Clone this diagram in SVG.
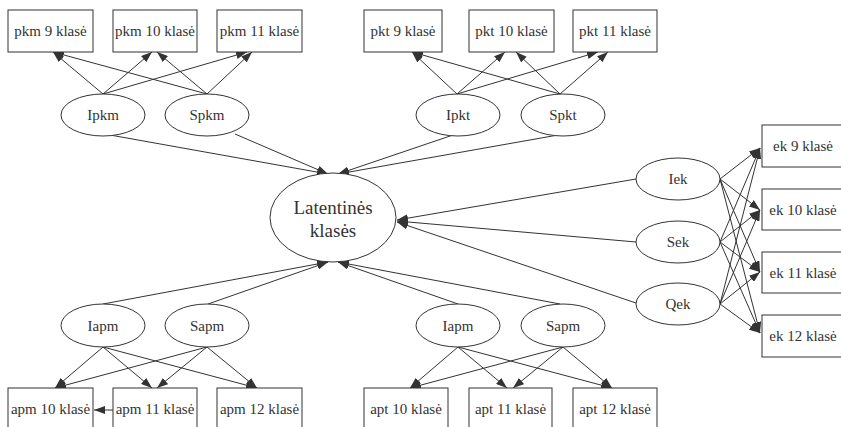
<svg xmlns="http://www.w3.org/2000/svg" width="841" height="427" viewBox="0 0 841 427">
<defs>
<marker id="ah" markerWidth="11" markerHeight="8" refX="11" refY="4" orient="auto" markerUnits="userSpaceOnUse">
<path d="M0,0 L11,4 L0,8 z" fill="#333"/>
</marker>
<style>
.box{fill:#fff;stroke:#333;stroke-width:1}
.ell{fill:#fff;stroke:#333;stroke-width:1}
text{font-family:'Liberation Serif','DejaVu Serif',serif;fill:#333;text-anchor:middle;dominant-baseline:central}
.t{font-size:15px}
.tc{font-size:19px}
#edges line{stroke:#333;stroke-width:1;marker-end:url(#ah)}
</style>
</defs>
<rect width="841" height="427" fill="#fff"/>
<g id="edges">
<line x1="103" y1="94" x2="53" y2="52"/>
<line x1="103" y1="94" x2="152" y2="52"/>
<line x1="103" y1="94" x2="247" y2="52"/>
<line x1="207" y1="94" x2="53" y2="52"/>
<line x1="207" y1="94" x2="157" y2="52"/>
<line x1="207" y1="94" x2="252" y2="52"/>
<line x1="457" y1="94" x2="412" y2="52"/>
<line x1="457" y1="94" x2="505" y2="52"/>
<line x1="457" y1="94" x2="598" y2="52"/>
<line x1="560" y1="94" x2="412" y2="52"/>
<line x1="560" y1="94" x2="516" y2="52"/>
<line x1="560" y1="94" x2="608" y2="52"/>
<line x1="110" y1="135" x2="328" y2="174"/>
<line x1="235" y1="134" x2="328" y2="174"/>
<line x1="453" y1="135" x2="338" y2="174"/>
<line x1="558" y1="135" x2="338" y2="174"/>
<line x1="103" y1="304" x2="328" y2="262"/>
<line x1="208" y1="304" x2="328" y2="262"/>
<line x1="458" y1="304" x2="338" y2="262"/>
<line x1="560" y1="304" x2="338" y2="262"/>
<line x1="636" y1="179" x2="397" y2="220"/>
<line x1="636" y1="242" x2="397" y2="221"/>
<line x1="636" y1="303" x2="397" y2="222"/>
<line x1="720" y1="179" x2="760" y2="148"/>
<line x1="720" y1="179" x2="760" y2="210"/>
<line x1="720" y1="179" x2="760" y2="272"/>
<line x1="720" y1="179" x2="760" y2="333"/>
<line x1="720" y1="242" x2="760" y2="148"/>
<line x1="720" y1="242" x2="760" y2="210"/>
<line x1="720" y1="242" x2="760" y2="272"/>
<line x1="720" y1="242" x2="760" y2="333"/>
<line x1="720" y1="304" x2="760" y2="148"/>
<line x1="720" y1="304" x2="760" y2="210"/>
<line x1="720" y1="304" x2="760" y2="272"/>
<line x1="720" y1="304" x2="760" y2="333"/>
<line x1="103" y1="347" x2="55" y2="388"/>
<line x1="103" y1="347" x2="152" y2="388"/>
<line x1="103" y1="347" x2="257" y2="388"/>
<line x1="207" y1="347" x2="55" y2="388"/>
<line x1="207" y1="347" x2="157" y2="388"/>
<line x1="207" y1="347" x2="257" y2="388"/>
<line x1="113" y1="410" x2="94" y2="410"/>
<line x1="458" y1="347" x2="410" y2="388"/>
<line x1="458" y1="347" x2="507" y2="388"/>
<line x1="458" y1="347" x2="612" y2="388"/>
<line x1="563" y1="347" x2="410" y2="388"/>
<line x1="563" y1="347" x2="513" y2="388"/>
<line x1="563" y1="347" x2="612" y2="388"/>
</g>
<g id="pkm9"><rect class="box" x="8" y="10" width="85" height="42"/><text class="t" x="50.5" y="31">pkm 9 klasė</text></g>
<g id="pkm10"><rect class="box" x="113" y="10" width="84" height="42"/><text class="t" x="155" y="31">pkm 10 klasė</text></g>
<g id="pkm11"><rect class="box" x="217" y="10" width="85" height="42"/><text class="t" x="259.5" y="31">pkm 11 klasė</text></g>
<g id="pkt9"><rect class="box" x="364" y="10" width="78" height="42"/><text class="t" x="403" y="31">pkt 9 klasė</text></g>
<g id="pkt10"><rect class="box" x="469" y="10" width="85" height="42"/><text class="t" x="511.5" y="31">pkt 10 klasė</text></g>
<g id="pkt11"><rect class="box" x="573" y="10" width="84" height="42"/><text class="t" x="615" y="31">pkt 11 klasė</text></g>
<g id="Ipkm"><ellipse class="ell" cx="103" cy="115" rx="42" ry="21"/><text class="t" x="103" y="115">Ipkm</text></g>
<g id="Spkm"><ellipse class="ell" cx="207" cy="115" rx="42" ry="21"/><text class="t" x="207" y="115">Spkm</text></g>
<g id="Ipkt"><ellipse class="ell" cx="458" cy="115" rx="42" ry="21"/><text class="t" x="458" y="115">Ipkt</text></g>
<g id="Spkt"><ellipse class="ell" cx="563" cy="115" rx="42" ry="21"/><text class="t" x="563" y="115">Spkt</text></g>
<g id="latent"><ellipse class="ell" cx="333" cy="217.5" rx="63" ry="44.5"/><text class="tc" x="333" y="207">Latentinės</text><text class="tc" x="333" y="230">klasės</text></g>
<g id="Iek"><ellipse class="ell" cx="678" cy="179" rx="42" ry="21"/><text class="t" x="678" y="179">Iek</text></g>
<g id="Sek"><ellipse class="ell" cx="678" cy="242" rx="42" ry="21"/><text class="t" x="678" y="242">Sek</text></g>
<g id="Qek"><ellipse class="ell" cx="678" cy="304" rx="42" ry="21"/><text class="t" x="678" y="304">Qek</text></g>
<g id="ek9"><rect class="box" x="762" y="125" width="85" height="42"/><text class="t" x="803" y="146">ek 9 klasė</text></g>
<g id="ek10"><rect class="box" x="762" y="189" width="85" height="41"/><text class="t" x="803" y="209.5">ek 10 klasė</text></g>
<g id="ek11"><rect class="box" x="762" y="252" width="85" height="41"/><text class="t" x="803" y="272.5">ek 11 klasė</text></g>
<g id="ek12"><rect class="box" x="762" y="315" width="85" height="42"/><text class="t" x="803" y="336">ek 12 klasė</text></g>
<g id="Iapm"><ellipse class="ell" cx="103" cy="325.5" rx="42" ry="21.5"/><text class="t" x="103" y="325.5">Iapm</text></g>
<g id="Sapm"><ellipse class="ell" cx="207" cy="325.5" rx="42" ry="21.5"/><text class="t" x="207" y="325.5">Sapm</text></g>
<g id="Iapm2"><ellipse class="ell" cx="458" cy="325.5" rx="42" ry="21.5"/><text class="t" x="458" y="325.5">Iapm</text></g>
<g id="Sapm2"><ellipse class="ell" cx="563" cy="325.5" rx="42" ry="21.5"/><text class="t" x="563" y="325.5">Sapm</text></g>
<g id="apm10"><rect class="box" x="8" y="388" width="85" height="42"/><text class="t" x="50.5" y="409">apm 10 klasė</text></g>
<g id="apm11"><rect class="box" x="113" y="388" width="84" height="42"/><text class="t" x="155" y="409">apm 11 klasė</text></g>
<g id="apm12"><rect class="box" x="217" y="388" width="85" height="42"/><text class="t" x="259.5" y="409">apm 12 klasė</text></g>
<g id="apt10"><rect class="box" x="364" y="388" width="84" height="42"/><text class="t" x="406" y="409">apt 10 klasė</text></g>
<g id="apt11"><rect class="box" x="469" y="388" width="83" height="42"/><text class="t" x="510.5" y="409">apt 11 klasė</text></g>
<g id="apt12"><rect class="box" x="573" y="388" width="84" height="42"/><text class="t" x="615" y="409">apt 12 klasė</text></g>
</svg>
